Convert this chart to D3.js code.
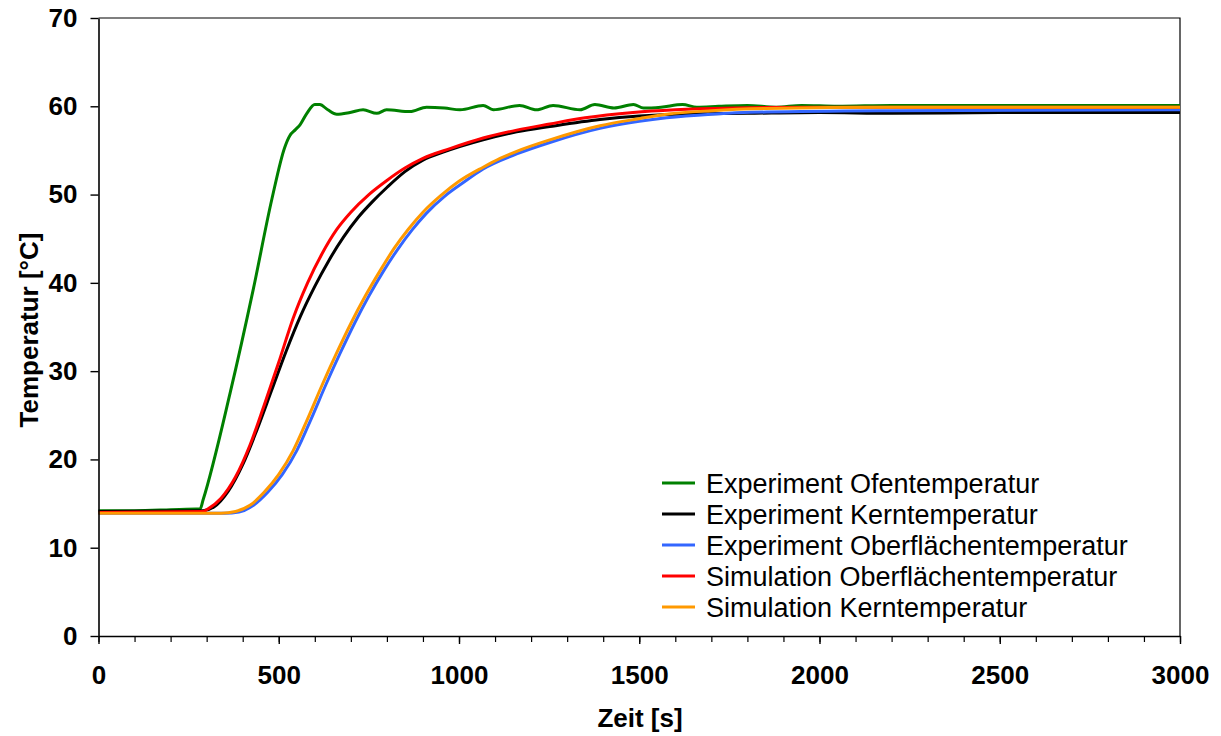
<!DOCTYPE html>
<html>
<head>
<meta charset="utf-8">
<script src="https://cdn.jsdelivr.net/npm/d3@7"></script>
<style>
  body { margin: 0; background: #fff; }
  svg { display: block; font-family: Arial, "Liberation Sans", sans-serif; }
</style>
</head>
<body>
<svg id="chart" width="1221" height="736"></svg>
<script>
// values (time in s, temperature in °C)
var ofenT = [0, 100, 200, 282, 290, 365, 429, 481, 517, 531, 545, 559, 578, 600, 614, 636, 661, 698, 734, 772, 799, 864, 910, 960, 1003, 1067, 1095, 1168, 1215, 1261, 1336, 1377, 1430, 1484, 1512, 1560, 1620, 1660, 1720, 1800, 1880, 1950, 2050, 2200, 2400, 2600, 2800, 3000]
var ofenV = [14.2, 14.2, 14.3, 14.4, 15.4, 27.5, 39.2, 49.5, 55.4, 56.7, 57.3, 57.9, 59.2, 60.2, 60.2, 59.6, 59.1, 59.3, 59.6, 59.2, 59.6, 59.4, 59.9, 59.8, 59.6, 60.1, 59.6, 60.1, 59.6, 60.1, 59.6, 60.2, 59.8, 60.2, 59.8, 59.9, 60.2, 59.9, 60.0, 60.1, 59.9, 60.1, 60.0, 60.1, 60.1, 60.1, 60.1, 60.1]

var kernExpT = [0, 290, 320, 360, 400, 440, 480, 520, 560, 600, 640, 680, 720, 760, 800, 850, 900, 956, 1067, 1160, 1252, 1391, 1500, 1600, 1800, 2000, 2200, 2500, 3000]
var kernExpV = [14.1, 14.2, 14.6, 16.4, 19.4, 23.4, 27.8, 32.2, 36.2, 39.6, 42.6, 45.2, 47.4, 49.2, 50.8, 52.6, 53.9, 54.8, 56.2, 57.1, 57.7, 58.5, 58.9, 59.1, 59.2, 59.3, 59.2, 59.3, 59.3]

var oberExpT = [0, 350, 390, 430, 470, 510, 550, 590, 630, 670, 710, 750, 790, 830, 870, 910, 960, 1010, 1067, 1160, 1252, 1391, 1500, 1576, 1700, 1853, 2200, 3000]
var oberExpV = [13.9, 13.9, 14.05, 14.8, 16.3, 18.3, 21.0, 24.6, 28.4, 32.0, 35.4, 38.5, 41.3, 43.8, 46.0, 47.9, 49.8, 51.3, 52.9, 54.6, 55.9, 57.5, 58.3, 58.7, 59.1, 59.35, 59.5, 59.6]

var oberSimT = [0, 290, 300, 340, 380, 420, 460, 500, 540, 580, 620, 660, 700, 750, 800, 850, 900, 975, 1067, 1160, 1252, 1350, 1483, 1600, 1761, 2000, 3000]
var oberSimV = [14.0, 14.1, 14.3, 15.6, 18.0, 21.6, 26.2, 31.0, 36.0, 40.0, 43.3, 46.0, 48.0, 50.0, 51.6, 53.0, 54.1, 55.2, 56.4, 57.3, 58.0, 58.7, 59.3, 59.6, 59.8, 59.9, 59.9]

var kernSimT = [0, 340, 380, 420, 460, 500, 540, 580, 620, 660, 700, 740, 780, 820, 860, 900, 950, 1000, 1067, 1114, 1160, 1252, 1391, 1500, 1576, 1700, 1853, 2200, 3000]
var kernSimV = [13.9, 13.9, 14.1, 14.8, 16.3, 18.3, 21.0, 24.6, 28.4, 32.0, 35.4, 38.5, 41.3, 43.9, 46.1, 48.0, 49.9, 51.5, 53.1, 54.1, 54.9, 56.2, 57.8, 58.6, 59.1, 59.5, 59.75, 59.9, 59.9]

var seriesNames = ["Experiment Ofentemperatur", "Experiment Kerntemperatur", "Experiment Oberflächentemperatur", "Simulation Oberflächentemperatur", "Simulation Kerntemperatur"]
var seriesColors = ["#008000", "#000000", "#3366ff", "#ff0000", "#ff9900"]
var seriesTimes = [ofenT, kernExpT, oberExpT, oberSimT, kernSimT]
var seriesValues = [ofenV, kernExpV, oberExpV, oberSimV, kernSimV]

var xTicks = [0, 500, 1000, 1500, 2000, 2500, 3000]
var yTicks = [0, 10, 20, 30, 40, 50, 60, 70]

var drawChart = function(){
  var svg = d3.select("#chart")
  var left = 98.5, right = 1180, plotTop = 18, bottom = 636

  var x = d3.scaleLinear().domain([0, 3000]).range([left, right])
  var y = d3.scaleLinear().domain([0, 70]).range([bottom, plotTop])

  // frame (top + right)
  svg.append("path")
    .attr("d", "M" + left + "," + plotTop + "H" + right + "V" + bottom)
    .attr("fill", "none").attr("stroke", "#000").attr("stroke-width", 1.2)

  // curves, drawn in legend order
  var line = d3.line()
    .x(function(d) { return x(d[0]) })
    .y(function(d) { return y(d[1]) })
    .curve(d3.curveMonotoneX)

  seriesNames.forEach(function(name, i){
    var pts = d3.zip(seriesTimes[i], seriesValues[i])
    svg.append("path")
      .datum(pts)
      .attr("d", line)
      .attr("fill", "none")
      .attr("stroke", seriesColors[i])
      .attr("stroke-width", 3)
      .attr("stroke-linejoin", "round")
  })

  // x axis with minor ticks every 100
  var xMinor = svg.append("g").attr("transform", "translate(0," + bottom + ")")
  xMinor.call(d3.axisBottom(x).tickValues(d3.range(0, 3001, 100)).tickSize(6).tickFormat(""))
  xMinor.selectAll(".tick line").attr("stroke-width", 1.2)
  xMinor.select(".domain").remove()

  var xMajor = svg.append("g").attr("transform", "translate(0," + bottom + ")")
  xMajor.call(d3.axisBottom(x).tickValues(xTicks).tickSize(8).tickSizeOuter(0).tickFormat(d3.format("d")))
  xMajor.select(".domain").attr("stroke-width", 1.6)
  xMajor.selectAll(".tick line").attr("stroke-width", 1.4)
  xMajor.selectAll("text")
    .attr("font-size", 26).attr("font-weight", "bold").attr("font-family", "Arial, 'Liberation Sans', sans-serif")
    .attr("fill", "#000").attr("y", 30).attr("dy", "0.71em")

  // y axis
  var yAxis = svg.append("g").attr("transform", "translate(" + left + ",0)")
  yAxis.call(d3.axisLeft(y).tickValues(yTicks).tickSize(8).tickSizeOuter(0).tickPadding(13).tickFormat(d3.format("d")))
  yAxis.select(".domain").attr("stroke-width", 1.6)
  yAxis.selectAll(".tick line").attr("stroke-width", 1.4)
  yAxis.selectAll("text")
    .attr("font-size", 26).attr("font-weight", "bold").attr("font-family", "Arial, 'Liberation Sans', sans-serif")
    .attr("fill", "#000")

  // axis titles
  svg.append("text")
    .attr("x", 640).attr("y", 727)
    .attr("text-anchor", "middle")
    .attr("font-size", 26).attr("font-weight", "bold")
    .text("Zeit [s]")

  svg.append("text")
    .attr("transform", "translate(38,330) rotate(-90)")
    .attr("text-anchor", "middle")
    .attr("font-size", 26).attr("font-weight", "bold")
    .text("Temperatur [°C]")

  // legend
  var legend = svg.append("g").attr("transform", "translate(662,483)")
  seriesNames.forEach(function(name, i){
    var row = legend.append("g").attr("transform", "translate(0," + (i * 31) + ")")
    row.append("line")
      .attr("x1", 0).attr("x2", 33).attr("y1", 0).attr("y2", 0)
      .attr("stroke", seriesColors[i]).attr("stroke-width", 3)
    row.append("text")
      .attr("x", 44).attr("y", 9.5)
      .attr("font-size", 27)
      .text(name)
  })
}

drawChart()
</script>
</body>
</html>
